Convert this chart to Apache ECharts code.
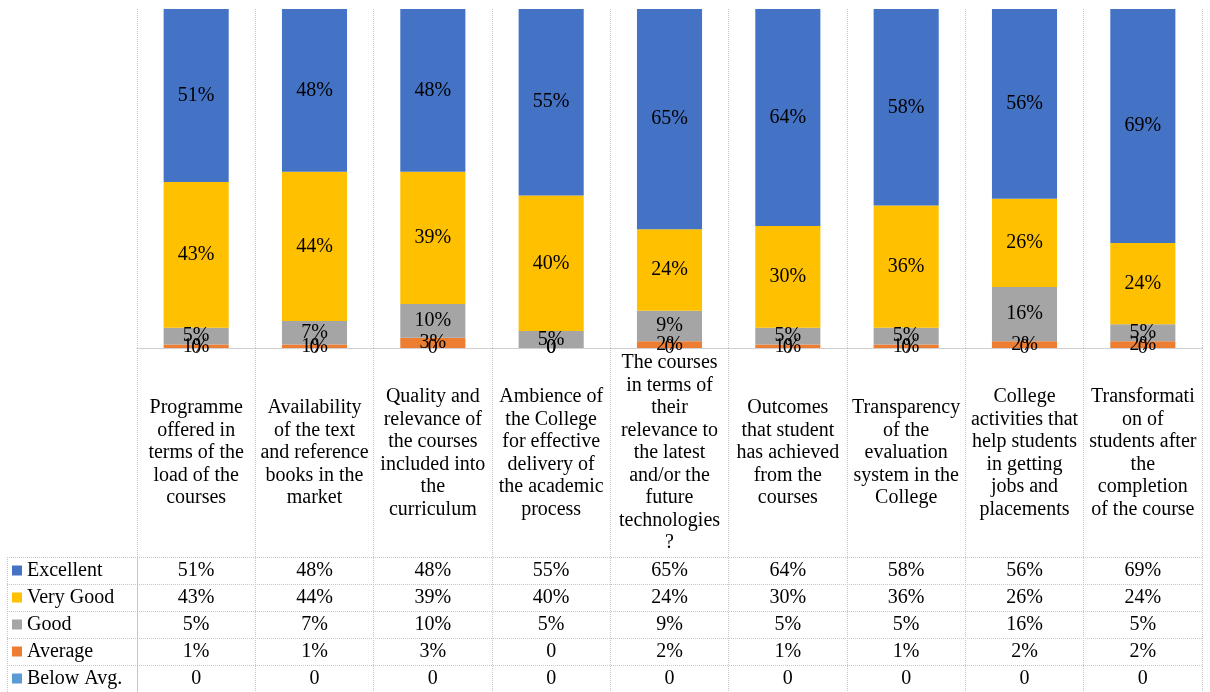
<!DOCTYPE html>
<html>
<head>
<meta charset="utf-8">
<title>Feedback</title>
<script src="https://cdn.jsdelivr.net/npm/echarts@6/dist/echarts.min.js"></script>
<style>
  html, body { margin: 0; padding: 0; background: #fff; }
  #main { width: 1210px; height: 692px; }
</style>
</head>
<body>
<div id="main"></div>
<script>
// categories, already broken into lines the way the source chart wraps them
var categories = [
    'Programme\noffered in\nterms of the\nload of the\ncourses',
    'Availability\nof the text\nand reference\nbooks in the\nmarket',
    'Quality and\nrelevance of\nthe courses\nincluded into\nthe\ncurriculum',
    'Ambience of\nthe College\nfor effective\ndelivery of\nthe academic\nprocess',
    'The courses\nin terms of\ntheir\nrelevance to\nthe latest\nand/or the\nfuture\ntechnologies\n?',
    'Outcomes\nthat student\nhas achieved\nfrom the\ncourses',
    'Transparency\nof the\nevaluation\nsystem in the\nCollege',
    'College\nactivities that\nhelp students\nin getting\njobs and\nplacements',
    'Transformati\non of\nstudents after\nthe\ncompletion\nof the course'
];
var rowNames = ['Excellent', 'Very Good', 'Good', 'Average', 'Below Avg.'];
var excellent = [51, 48, 48, 55, 65, 64, 58, 56, 69];
var veryGood  = [43, 44, 39, 40, 24, 30, 36, 26, 24];
var good      = [5, 7, 10, 5, 9, 5, 5, 16, 5];
var average   = [1, 1, 3, 0, 2, 1, 1, 2, 2];
var belowAvg  = [0, 0, 0, 0, 0, 0, 0, 0, 0];
var colors = ['#4472C4', '#FFC000', '#A5A5A5', '#ED7D31', '#5B9BD5'];

var rows = [excellent, veryGood, good, average, belowAvg];
var font = 'Liberation Serif';
var fs = 20;
var lineCol = '#c9c4c9';

function fmt(v) {
    return v === 0 ? '0' : v + '%';
}

// cells of the data table: [column, row, value]
var cells = [];
rows.forEach(function (r, ri) {
    r.forEach(function (v, ci) {
        cells.push([ci, ri, v]);
    });
});

// stacked bars, bottom series first
var barSeries = [];
for (var k = rows.length - 1; k >= 0; k--) {
    barSeries.push({
        name: rowNames[k],
        type: 'bar',
        stack: 'all',
        barWidth: '55%',
        xAxisIndex: 0,
        yAxisIndex: 0,
        data: rows[k],
        itemStyle: { color: colors[k] },
        label: {
            show: true,
            position: 'inside',
            formatter: function (p) { return fmt(p.value); },
            fontFamily: font,
            fontSize: fs,
            color: '#000'
        }
    });
}

var chart = echarts.init(document.getElementById('main'));
var option = {
    animation: false,
    textStyle: { fontFamily: font },
    legend: {
        data: rowNames,
        orient: 'vertical',
        left: 12,
        top: 557,
        padding: 0,
        itemGap: 0,
        itemWidth: 10,
        itemHeight: 10,
        icon: 'rect',
        selectedMode: false,
        textStyle: { fontFamily: font, fontSize: fs, lineHeight: 27, color: '#000' }
    },
    grid: [
        { left: 137, top: 9, width: 1065, height: 339 },   // bars
        { left: 137, top: 348, width: 1065, height: 344 }, // column lines below the plot
        { left: 137, top: 557, width: 1065, height: 135 }, // table values
        { left: 7, top: 557, width: 130, height: 135 }     // legend column
    ],
    xAxis: [
        {
            type: 'category', gridIndex: 0, data: categories,
            axisLine: { lineStyle: { color: lineCol, type: 'dotted' } },
            axisTick: { show: false },
            splitLine: { show: true, lineStyle: { color: lineCol, type: 'dotted' } },
            axisLabel: {
                interval: 0, margin: 105, verticalAlign: 'middle', align: 'center',
                fontFamily: font, fontSize: fs, lineHeight: 22.5, color: '#000'
            }
        },
        {
            type: 'category', gridIndex: 1, data: categories,
            axisLine: { show: false }, axisTick: { show: false }, axisLabel: { show: false },
            splitLine: { show: true, lineStyle: { color: lineCol, type: 'dotted' } }
        },
        {
            type: 'category', gridIndex: 2, data: categories,
            axisLine: { show: false }, axisTick: { show: false }, axisLabel: { show: false },
            splitLine: { show: false }
        },
        {
            type: 'category', gridIndex: 3, data: [''],
            axisLine: { show: false }, axisTick: { show: false }, axisLabel: { show: false },
            splitLine: { show: true, lineStyle: { color: lineCol, type: 'dotted' } }
        }
    ],
    yAxis: [
        { type: 'value', gridIndex: 0, min: 0, max: 100, show: false },
        { type: 'value', gridIndex: 1, show: false },
        {
            type: 'category', gridIndex: 2, data: rowNames, inverse: true,
            axisLine: { show: false }, axisTick: { show: false }, axisLabel: { show: false },
            splitLine: { show: true, lineStyle: { color: lineCol, type: 'dotted' } }
        },
        {
            type: 'category', gridIndex: 3, data: rowNames, inverse: true,
            axisLine: { show: false }, axisTick: { show: false }, axisLabel: { show: false },
            splitLine: { show: true, lineStyle: { color: lineCol, type: 'dotted' } }
        }
    ],
    series: barSeries.concat([{
        name: 'table',
        type: 'scatter',
        xAxisIndex: 2,
        yAxisIndex: 2,
        symbolSize: 1,
        itemStyle: { color: 'rgba(0,0,0,0)', opacity: 1 },
        data: cells,
        label: {
            show: true,
            position: 'inside',
            formatter: function (p) { return fmt(p.value[2]); },
            fontFamily: font,
            fontSize: fs,
            color: '#000'
        }
    }])
};
chart.setOption(option);
</script>
</body>
</html>
